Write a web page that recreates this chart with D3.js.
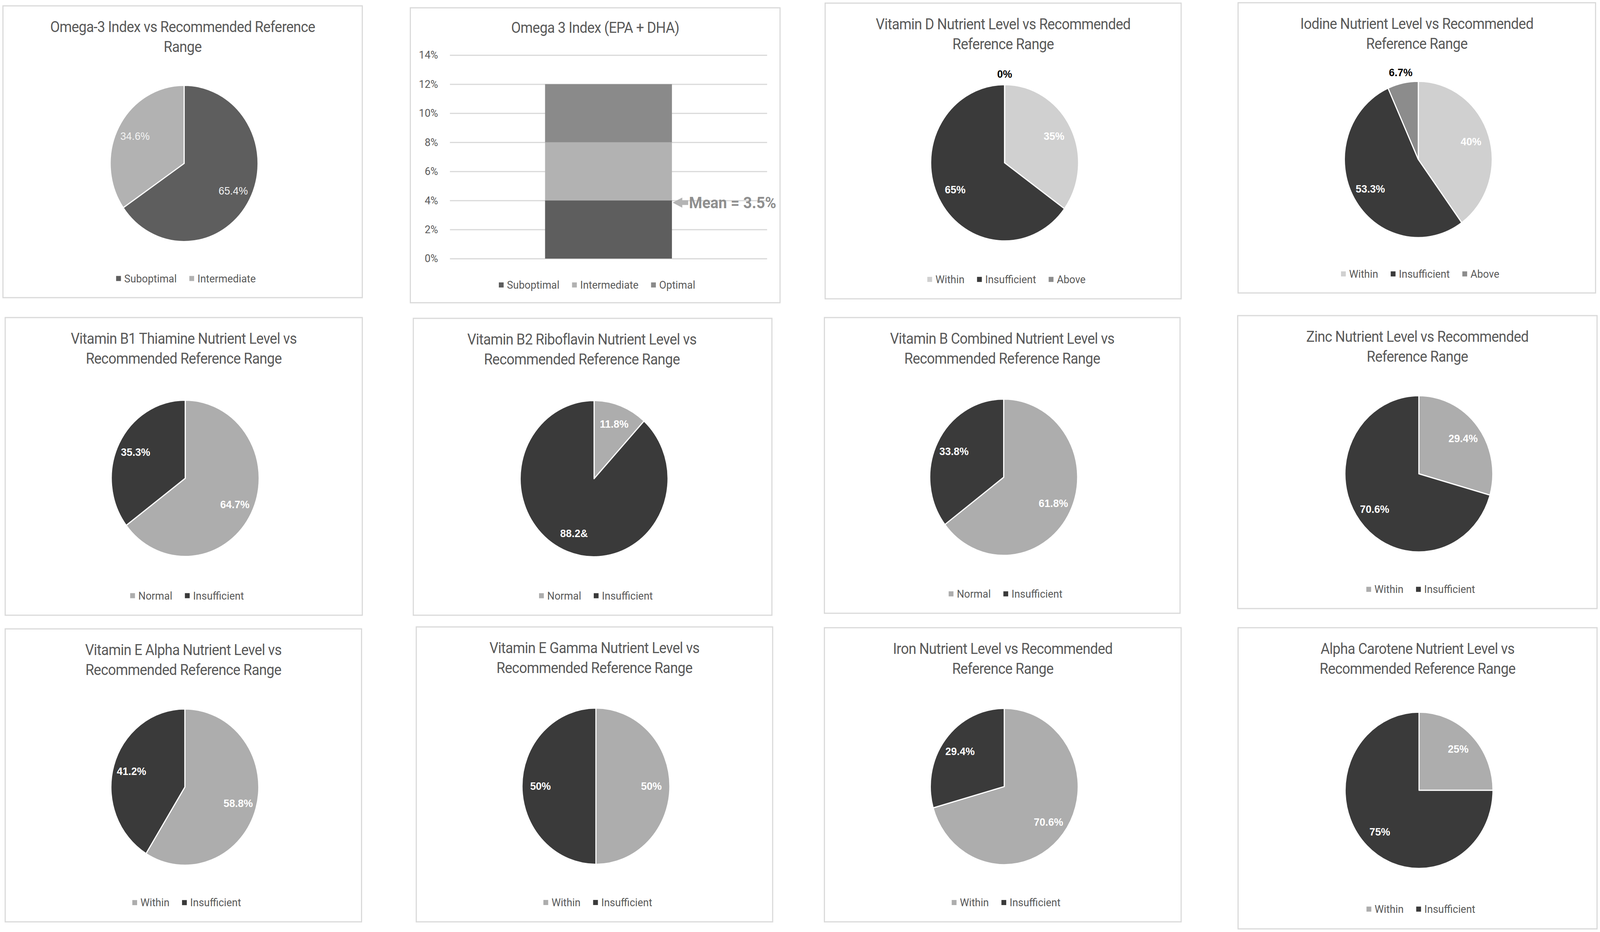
<!DOCTYPE html>
<html><head><meta charset="utf-8">
<script src="https://cdn.jsdelivr.net/npm/d3@7"></script>
<style>
html,body{margin:0;padding:0;background:#fff;width:100%;height:100%;overflow:hidden;}
svg{display:block;width:100vw;height:100vh;}
</style></head>
<body>
<svg id="chart" viewBox="0 0 4328 2386" preserveAspectRatio="none"></svg>
<script>
// ===================== DATA =====================
const omegaPieCategories = ["Suboptimal", "Intermediate"];
const omegaPieValues = [65.4, 34.6];

const omegaBarCategories = ["Suboptimal", "Intermediate", "Optimal"];
const omegaBarBandValues = [4, 4, 4];          // stacked band heights (%)
const omegaYTicks = [0, 2, 4, 6, 8, 10, 12, 14];
const omegaMeanLabel = "Mean = 3.5%";
const omegaMeanArrowAt = 3.85;                  // where the arrow sits on the axis

const rangeCats3 = ["Within", "Insufficient", "Above"];
const normalCats = ["Normal", "Insufficient"];
const withinCats = ["Within", "Insufficient"];

const vitaminDValues = [35, 65, 0];
const iodineValues = [40, 53.3, 6.7];
const vitaminB1Values = [64.7, 35.3];
const vitaminB2Values = [11.8, 88.2];
const vitaminB2Labels = ["11.8%", "88.2&"];
const vitaminBCombinedValues = [61.8, 33.8];
const zincValues = [29.4, 70.6];
const vitaminEAlphaValues = [58.8, 41.2];
const vitaminEGammaValues = [50, 50];
const ironValues = [70.6, 29.4];
const alphaCaroteneValues = [25, 75];

const titles = [
  ["Omega-3 Index vs Recommended Reference", "Range"],
  ["Omega 3 Index (EPA + DHA)"],
  ["Vitamin D Nutrient Level vs Recommended", "Reference Range"],
  ["Iodine Nutrient Level vs Recommended", "Reference Range"],
  ["Vitamin B1 Thiamine Nutrient Level vs", "Recommended Reference Range"],
  ["Vitamin B2 Riboflavin Nutrient Level vs", "Recommended Reference Range"],
  ["Vitamin B Combined Nutrient Level vs", "Recommended Reference Range"],
  ["Zinc Nutrient Level vs Recommended", "Reference Range"],
  ["Vitamin E Alpha Nutrient Level vs", "Recommended Reference Range"],
  ["Vitamin E Gamma Nutrient Level vs", "Recommended Reference Range"],
  ["Iron Nutrient Level vs Recommended", "Reference Range"],
  ["Alpha Carotene Nutrient Level vs", "Recommended Reference Range"]
];

// ===================== LAYOUT / STYLE =====================
const panelBoxes = [
  {x: 8, y: 15, w: 972, h: 747},
  {x: 1110, y: 20, w: 1000, h: 755},
  {x: 2232, y: 8, w: 963, h: 757},
  {x: 3349, y: 7, w: 967, h: 743},
  {x: 14, y: 813, w: 966, h: 762},
  {x: 1118, y: 815, w: 970, h: 760},
  {x: 2230, y: 813, w: 962, h: 757},
  {x: 3348, y: 808, w: 972, h: 750},
  {x: 14, y: 1610, w: 964, h: 750},
  {x: 1126, y: 1605, w: 964, h: 755},
  {x: 2230, y: 1607, w: 965, h: 753},
  {x: 3349, y: 1607, w: 971, h: 771}
];
const titleShift = [0, 0, 0, 0, 0, -29, 0, 0, 0, 0, 0, 0];

const C_DARK = "#3a3a3a", C_ABOVE = "#8c8c8c", C_PALE = "#d0d0d0", C_GREY = "#adadad";
const C_OM_DARK = "#5e5e5e", C_OM_LIGHT = "#b2b2b2", C_OM_OPT = "#8a8a8a";
const TEXT_GREY = "#595959";
const FONT = "Roboto, 'Open Sans', sans-serif";
const LABEL_FONT = "'Liberation Sans', Arial, sans-serif";
const PIE_R = 200;

const piePanels = [
  {panel: 0, cats: omegaPieCategories, values: omegaPieValues, colors: [C_OM_DARK, C_OM_LIGHT], plainLabels: true},
  {panel: 2, cats: rangeCats3, values: vitaminDValues, colors: [C_PALE, C_DARK, C_ABOVE]},
  {panel: 3, cats: rangeCats3, values: iodineValues, colors: [C_PALE, C_DARK, C_ABOVE]},
  {panel: 4, cats: normalCats, values: vitaminB1Values, colors: [C_GREY, C_DARK]},
  {panel: 5, cats: normalCats, values: vitaminB2Values, colors: [C_GREY, C_DARK], labels: vitaminB2Labels},
  {panel: 6, cats: normalCats, values: vitaminBCombinedValues, colors: [C_GREY, C_DARK]},
  {panel: 7, cats: withinCats, values: zincValues, colors: [C_GREY, C_DARK]},
  {panel: 8, cats: withinCats, values: vitaminEAlphaValues, colors: [C_GREY, C_DARK]},
  {panel: 9, cats: withinCats, values: vitaminEGammaValues, colors: [C_GREY, C_DARK]},
  {panel: 10, cats: withinCats, values: ironValues, colors: [C_GREY, C_DARK]},
  {panel: 11, cats: withinCats, values: alphaCaroteneValues, colors: [C_GREY, C_DARK]}
];

// ===================== DRAW =====================
const svg = d3.select("#chart");
svg.append("rect").attr("width", 4328).attr("height", 2386).attr("fill", "#fff");

// panel frames + titles
panelBoxes.forEach((b, i) => {
  svg.append("rect").attr("x", b.x).attr("y", b.y).attr("width", b.w).attr("height", b.h)
    .attr("fill", "#fff").attr("stroke", "#d9d9d9").attr("stroke-width", 3);
  const lines = titles[i];
  const ty0 = lines.length === 1 ? b.y + 51 : b.y + 54;
  lines.forEach((ln, k) => {
    svg.append("text").attr("x", b.x + b.w / 2 + titleShift[i]).attr("y", ty0 + k * 51)
      .attr("text-anchor", "middle").attr("dominant-baseline", "central")
      .attr("font-family", FONT).attr("font-size", 38).attr("letter-spacing", -0.8)
      .attr("fill", TEXT_GREY).text(ln);
  });
});

function drawLegend(cx, cy, cats, colors) {
  const g = svg.append("g");
  let x = 0;
  cats.forEach((c, i) => {
    g.append("rect").attr("x", x).attr("y", cy - 7).attr("width", 13).attr("height", 13).attr("fill", colors[i]);
    const t = g.append("text").attr("x", x + 22).attr("y", cy).attr("dominant-baseline", "central")
      .attr("font-family", FONT).attr("font-size", 28).attr("fill", TEXT_GREY).text(c);
    const tw = t.node().getComputedTextLength();
    x += 22 + tw + 34;
  });
  const total = x - 34;
  g.attr("transform", `translate(${cx - total / 2},0)`);
}

// pies
const pie = d3.pie().sort(null).value(d => d).startAngle(0).endAngle(2 * Math.PI);
const arc = d3.arc().innerRadius(0).outerRadius(PIE_R);

piePanels.forEach(p => {
  const b = panelBoxes[p.panel];
  const cx = b.x + b.w / 2 + 4, cy = b.y + 0.54 * b.h;
  const g = svg.append("g").attr("transform", `translate(${cx},${cy})`);
  const arcs = pie(p.values);
  const total = d3.sum(p.values);
  g.selectAll("path").data(arcs).join("path")
    .attr("d", arc).attr("fill", (d, i) => p.colors[i])
    .attr("stroke", "#fff").attr("stroke-width", 3).attr("stroke-linejoin", "round");
  arcs.forEach((d, i) => {
    const frac = d.value / total;
    const mid = (d.startAngle + d.endAngle) / 2;
    const outside = frac < 0.08;
    const rl = outside ? PIE_R * 1.14 : PIE_R * 0.75;
    const txt = p.labels ? p.labels[i] : (p.values[i] + "%");
    g.append("text").attr("x", rl * Math.sin(mid)).attr("y", -rl * Math.cos(mid))
      .attr("text-anchor", "middle").attr("dominant-baseline", "central")
      .attr("font-family", LABEL_FONT).attr("font-size", 28)
      .attr("font-weight", p.plainLabels ? 400 : 700)
      .attr("fill", outside ? "#000" : (p.plainLabels ? "#f2f2f2" : "#fff"))
      .text(txt);
  });
  drawLegend(b.x + b.w / 2 + 9, b.y + 0.935 * b.h, p.cats, p.colors);
});

// stacked bar (Omega 3 Index)
(function () {
  const b = panelBoxes[1];
  const left = b.x + 107, right = b.x + 965;
  const y = d3.scaleLinear().domain([0, 14]).range([b.y + 642, b.y + 121]);
  const x = d3.scaleBand().domain(["Omega 3 Index"]).range([left, right]).paddingInner(0.6).paddingOuter(0.3);
  const colors = [C_OM_DARK, C_OM_LIGHT, C_OM_OPT];

  const grid = svg.append("g").attr("transform", `translate(${left},0)`)
    .call(d3.axisLeft(y).tickValues(omegaYTicks).tickSize(-(right - left)).tickFormat(""));
  grid.select(".domain").remove();
  grid.selectAll("line").attr("stroke", "#d9d9d9").attr("stroke-width", 3);

  const ax = svg.append("g").attr("transform", `translate(${left},0)`)
    .call(d3.axisLeft(y).tickValues(omegaYTicks).tickSize(0).tickPadding(32).tickFormat(d => d + "%"));
  ax.select(".domain").remove();
  ax.selectAll("text").attr("font-family", FONT).attr("font-size", 28).attr("fill", TEXT_GREY);

  const row = {};
  omegaBarCategories.forEach((c, i) => row[c] = omegaBarBandValues[i]);
  const series = d3.stack().keys(omegaBarCategories)([row]);
  svg.append("g").selectAll("rect").data(series).join("rect")
    .attr("x", x("Omega 3 Index")).attr("width", x.bandwidth())
    .attr("y", s => y(s[0][1])).attr("height", s => y(s[0][0]) - y(s[0][1]))
    .attr("fill", (s, i) => colors[i]);

  const tx = x("Omega 3 Index") + x.bandwidth() + 2, ty = y(omegaMeanArrowAt);
  const pts = [[0, 0], [26, -13], [26, -6], [42, -6], [42, 6], [26, 6], [26, 13]];
  svg.append("polygon").attr("points", pts.map(p => [tx + p[0], ty + p[1]].join(",")).join(" "))
    .attr("fill", "#b4b4b4");
  svg.append("text").attr("x", tx + 44).attr("y", ty).attr("dominant-baseline", "central")
    .attr("font-family", FONT).attr("font-weight", 700).attr("font-size", 41).attr("fill", "#8f8f8f")
    .text(omegaMeanLabel);

  drawLegend(b.x + b.w / 2 + 5, b.y + 710, omegaBarCategories, colors);
})();
</script>
</body></html>
